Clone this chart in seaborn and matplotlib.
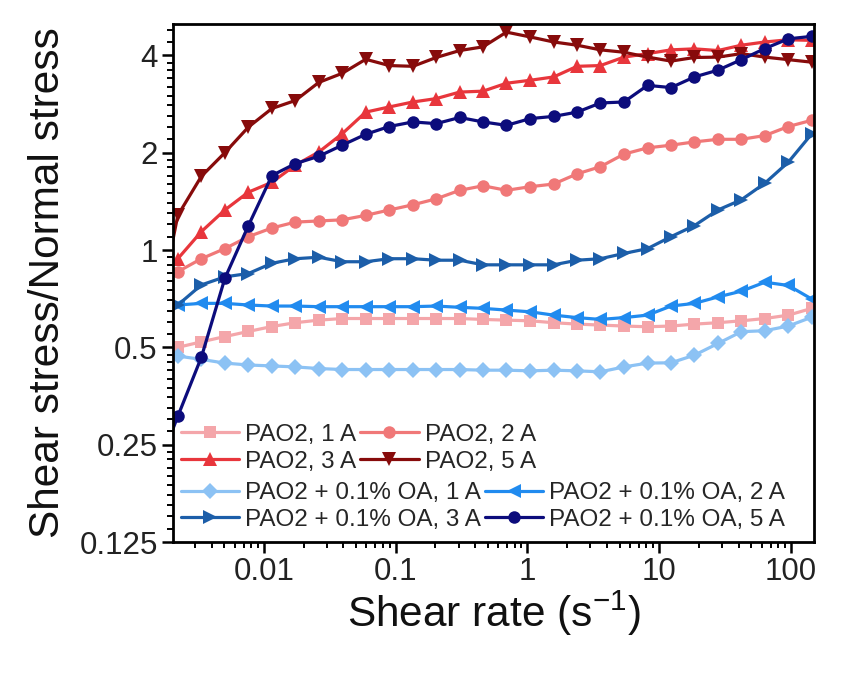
import numpy as np
import pandas as pd
import matplotlib
matplotlib.use('Agg')
import matplotlib.pyplot as plt
from matplotlib.ticker import LogLocator, NullFormatter
import seaborn as sns

# shear rate grid (first point sits just left of the axis so lines run in from the edge)
shear_rate = [0.00148, 0.00222, 0.00335, 0.00505, 0.00762, 0.0115, 0.0173, 0.0261,
              0.0393, 0.0592, 0.0893, 0.135, 0.203, 0.306, 0.460, 0.693, 1.05,
              1.58, 2.38, 3.58, 5.40, 8.15, 12.3, 18.5, 27.9, 42.0, 63.4, 95.5, 144.0]

pao2_1a = [0.48, 0.50, 0.52, 0.54, 0.56, 0.58, 0.596, 0.607, 0.614, 0.614, 0.614, 0.614,
           0.614, 0.614, 0.610, 0.607, 0.604, 0.596, 0.590, 0.586, 0.582, 0.579, 0.582,
           0.590, 0.596, 0.604, 0.614, 0.629, 0.66]
pao2_2a = [0.80, 0.857, 0.94, 1.01, 1.10, 1.17, 1.22, 1.23, 1.24, 1.28, 1.33, 1.38, 1.44,
           1.53, 1.58, 1.53, 1.57, 1.60, 1.72, 1.81, 1.98, 2.07, 2.11, 2.16, 2.20, 2.20,
           2.26, 2.41, 2.52]
pao2_3a = [0.80, 0.94, 1.14, 1.33, 1.51, 1.62, 1.83, 2.01, 2.29, 2.67, 2.77, 2.87, 2.94,
           3.08, 3.10, 3.28, 3.35, 3.43, 3.70, 3.72, 3.95, 4.05, 4.16, 4.19, 4.14, 4.30,
           4.40, 4.47, 4.45]
pao2_5a = [0.56, 1.28, 1.69, 2.00, 2.40, 2.74, 2.90, 3.30, 3.52, 3.89, 3.72, 3.70, 3.94,
           4.14, 4.25, 4.72, 4.56, 4.40, 4.30, 4.16, 4.09, 3.95, 3.84, 3.94, 3.95, 4.05,
           3.95, 3.88, 3.81]
oa_1a = [0.48, 0.470, 0.459, 0.447, 0.441, 0.438, 0.435, 0.430, 0.427, 0.427, 0.427, 0.427,
         0.427, 0.427, 0.425, 0.425, 0.423, 0.425, 0.423, 0.420, 0.435, 0.447, 0.448, 0.473,
         0.514, 0.559, 0.563, 0.582, 0.62]
oa_2a = [0.67, 0.676, 0.684, 0.684, 0.676, 0.671, 0.671, 0.668, 0.668, 0.668, 0.668, 0.668,
         0.671, 0.665, 0.660, 0.652, 0.644, 0.629, 0.618, 0.610, 0.618, 0.629, 0.671, 0.684,
         0.716, 0.746, 0.795, 0.777, 0.705]
oa_3a = [0.60, 0.676, 0.78, 0.826, 0.846, 0.91, 0.94, 0.95, 0.92, 0.92, 0.94, 0.94, 0.93,
         0.93, 0.90, 0.90, 0.90, 0.90, 0.93, 0.94, 0.976, 1.01, 1.10, 1.19, 1.33, 1.43,
         1.61, 1.87, 2.29]
oa_5a = [0.20, 0.306, 0.466, 0.817, 1.19, 1.70, 1.85, 1.95, 2.11, 2.28, 2.41, 2.49, 2.46,
         2.57, 2.49, 2.43, 2.55, 2.59, 2.67, 2.85, 2.87, 3.23, 3.18, 3.43, 3.60, 3.88,
         4.20, 4.50, 4.58]

series_names = ['PAO2, 1 A', 'PAO2, 2 A', 'PAO2, 3 A', 'PAO2, 5 A',
                'PAO2 + 0.1% OA, 1 A', 'PAO2 + 0.1% OA, 2 A',
                'PAO2 + 0.1% OA, 3 A', 'PAO2 + 0.1% OA, 5 A']
series_values = [pao2_1a, pao2_2a, pao2_3a, pao2_5a, oa_1a, oa_2a, oa_3a, oa_5a]
series_colors = ['#f4a6aa', '#f07878', '#e8363c', '#870b0b',
                 '#8cc2f4', '#218bef', '#1c5ea9', '#0c0c7c']
series_markers = ['s', 'o', '^', 'v', 'D', '<', '>', 'o']
series_msize = [8.5, 9, 9.5, 9.5, 8, 9.5, 9.5, 9]

x_ticks = [0.01, 0.1, 1, 10, 100]
x_tick_labels = ['0.01', '0.1', '1', '10', '100']
y_ticks = [0.125, 0.25, 0.5, 1, 2, 4]
y_tick_labels = ['0.125', '0.25', '0.5', '1', '2', '4']

sns.set_style('ticks')
plt.rcParams['font.family'] = ['Liberation Sans', 'DejaVu Sans']
plt.rcParams['mathtext.fontset'] = 'custom'
plt.rcParams['mathtext.rm'] = 'Liberation Sans'
plt.rcParams['mathtext.default'] = 'regular'

fig = plt.figure(figsize=(8.45, 6.75), dpi=100)
ax = fig.add_axes([0.2047, 0.1970, 0.7586, 0.7674])

for name, vals, col, mk, ms in zip(series_names, series_values, series_colors,
                                   series_markers, series_msize):
    sns.lineplot(x=shear_rate, y=vals, ax=ax, color=col, marker=mk, markersize=ms,
                 markeredgewidth=0, linewidth=2.3, label=name, legend=False)

ax.set_xscale('log')
ax.set_yscale('log', base=2)
ax.set_xlim(0.00204, 149.5)
ax.set_ylim(0.125, 5.0)

ax.set_xticks(x_ticks)
ax.set_xticklabels(x_tick_labels)
ax.xaxis.set_minor_locator(LogLocator(base=10, subs=np.arange(2, 10), numticks=50))
ax.xaxis.set_minor_formatter(NullFormatter())
ax.set_yticks(y_ticks)
ax.set_yticklabels(y_tick_labels)
ax.yaxis.set_minor_locator(LogLocator(base=2, subs=np.arange(1.1, 2.0, 0.1), numticks=50))
ax.yaxis.set_minor_formatter(NullFormatter())
ax.tick_params(which='major', direction='out', length=8, width=1.8, labelsize=22.5,
               pad=3, colors='black', labelcolor='#222222')
ax.tick_params(which='minor', direction='out', length=4.5, width=1.4, colors='black')
for sp in ax.spines.values():
    sp.set_linewidth(2)
    sp.set_color('black')

ax.set_xlabel('Shear rate (s$^{-1}$)', fontsize=30.5, labelpad=1, color='#111111')
ax.set_ylabel('Shear stress/Normal stress', fontsize=30.5, labelpad=8, color='#111111')

# legend is filled row by row, so hand the entries over column-first
handles = ax.get_lines()[:8]
order = [0, 2, 1, 3]
leg_kw = dict(ncol=2, loc='upper left', frameon=False, fontsize=17.5, handlelength=2.4,
              handletextpad=0.25, columnspacing=0.17, labelspacing=0.2, borderpad=0,
              borderaxespad=0)
leg1 = ax.legend([handles[i] for i in order], [series_names[i] for i in order],
                 bbox_to_anchor=(0.012, 0.2284), **leg_kw)
ax.add_artist(leg1)
leg2 = ax.legend([handles[4 + i] for i in order], [series_names[4 + i] for i in order],
                 bbox_to_anchor=(0.012, 0.1158), **leg_kw)

fig.savefig('out.png', dpi=100)
